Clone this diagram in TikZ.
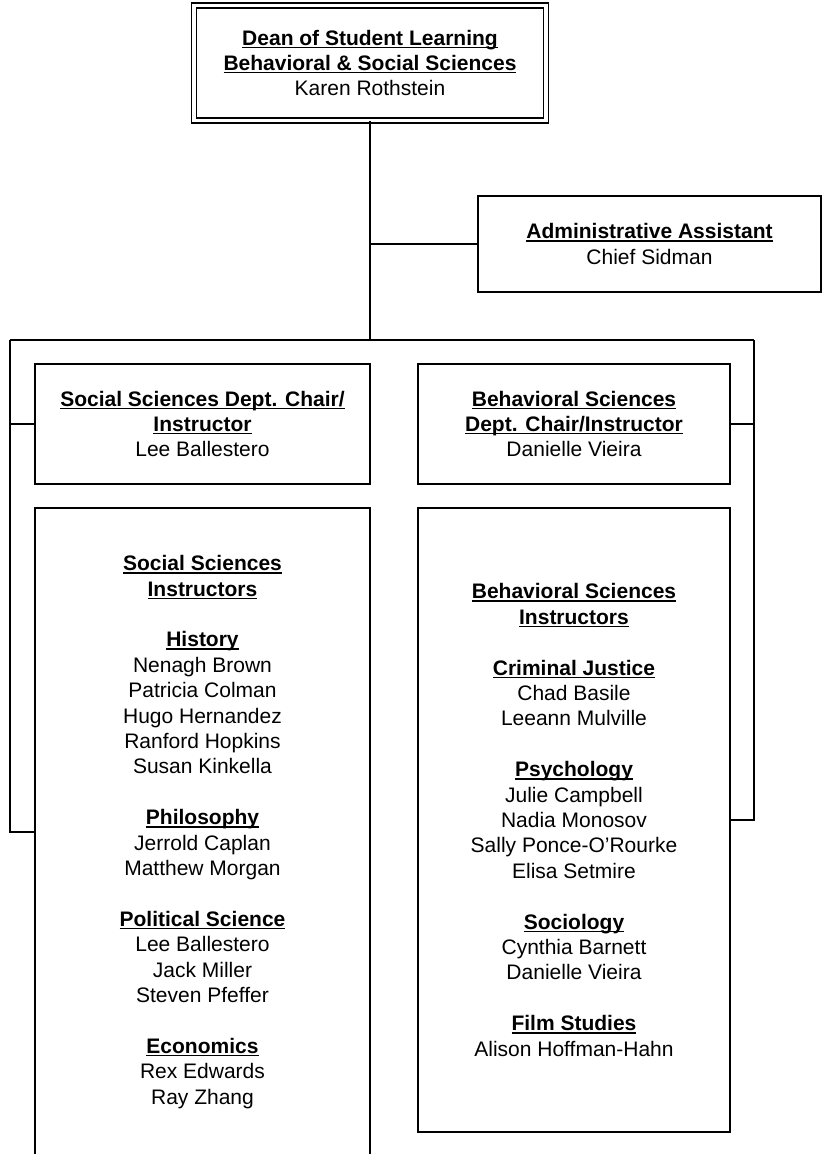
\documentclass[tikz,border=0pt]{standalone}
\usepackage{fontspec}
\setmainfont{Liberation Sans}
\usepackage{tikz}

\newcommand{\orgfont}{\fontsize{15.75}{19.05}\selectfont}
\newcommand{\ulhead}[1]{\setbox0\hbox{\textbf{#1}}\rlap{\rule[-2.2pt]{\wd0}{1.1pt}}\box0}

\tikzset{
	orgbox/.style={draw, line width=1.1pt, align=center, inner sep=0pt, font=\orgfont},
	link/.style={line width=1.1pt}
}

\begin{document}
\begin{tikzpicture}[x=0.75pt, y=-0.75pt]
		
		% Page frame
		\useasboundingbox (0,0) rectangle (823,1154);
		
		% Draw the dean box with a double border
		\node[orgbox, double, double distance=2.6pt, minimum width=264pt, minimum height=86.25pt] (dean) at (370,63)
		{\ulhead{Dean of Student Learning}\\ \ulhead{Behavioral \& Social Sciences}\\ Karen Rothstein};
		
		% Draw the assistant box
		\node[orgbox, minimum width=257.25pt, minimum height=72pt] (admin) at (649.5,244)
		{\ulhead{Administrative Assistant}\\ Chief Sidman};
		
		% Draw the two chair boxes
		\node[orgbox, minimum width=251.25pt, minimum height=90pt] (socchair) at (202.5,424)
		{\ulhead{Social Sciences Dept. Chair/}\\ \ulhead{Instructor}\\ Lee Ballestero};
		\node[orgbox, minimum width=234pt, minimum height=90pt] (behchair) at (574,424)
		{\ulhead{Behavioral Sciences}\\ \ulhead{Dept. Chair/Instructor}\\ Danielle Vieira};
		
		% Draw the two instructor boxes
		\node[orgbox, minimum width=251.25pt, minimum height=486pt] (socinst) at (202.5,832)
		{\ulhead{Social Sciences}\\ \ulhead{Instructors}\\[\baselineskip]
		 \ulhead{History}\\ Nenagh Brown\\ Patricia Colman\\ Hugo Hernandez\\ Ranford Hopkins\\ Susan Kinkella\\[\baselineskip]
		 \ulhead{Philosophy}\\ Jerrold Caplan\\ Matthew Morgan\\[\baselineskip]
		 \ulhead{Political Science}\\ Lee Ballestero\\ Jack Miller\\ Steven Pfeffer\\[\baselineskip]
		 \ulhead{Economics}\\ Rex Edwards\\ Ray Zhang};
		\node[orgbox, minimum width=234pt, minimum height=468pt] (behinst) at (574,820)
		{\ulhead{Behavioral Sciences}\\ \ulhead{Instructors}\\[\baselineskip]
		 \ulhead{Criminal Justice}\\ Chad Basile\\ Leeann Mulville\\[\baselineskip]
		 \ulhead{Psychology}\\ Julie Campbell\\ Nadia Monosov\\ Sally Ponce-O’Rourke\\ Elisa Setmire\\[\baselineskip]
		 \ulhead{Sociology}\\ Cynthia Barnett\\ Danielle Vieira\\[\baselineskip]
		 \ulhead{Film Studies}\\ Alison Hoffman-Hahn};
		
		% Bus coordinates
		\coordinate (busL) at (10,340);
		\coordinate (busM) at (370,340);
		\coordinate (busR) at (754,340);
		
		% Draw the connectors
		\draw[link] (dean.south) -- (busM);
		\draw[link] (admin.west) -- (admin.west -| dean.south);
		\draw[link] (busL) -- (busR);
		\draw[link] (busL) -- (busL |- socinst.west) -- (socinst.west);
		\draw[link] (socchair.west) -- (socchair.west -| busL);
		\draw[link] (busR) -- (busR |- behinst.east) -- (behinst.east);
		\draw[link] (behchair.east) -- (behchair.east -| busR);
		
	\end{tikzpicture}
\end{document}
